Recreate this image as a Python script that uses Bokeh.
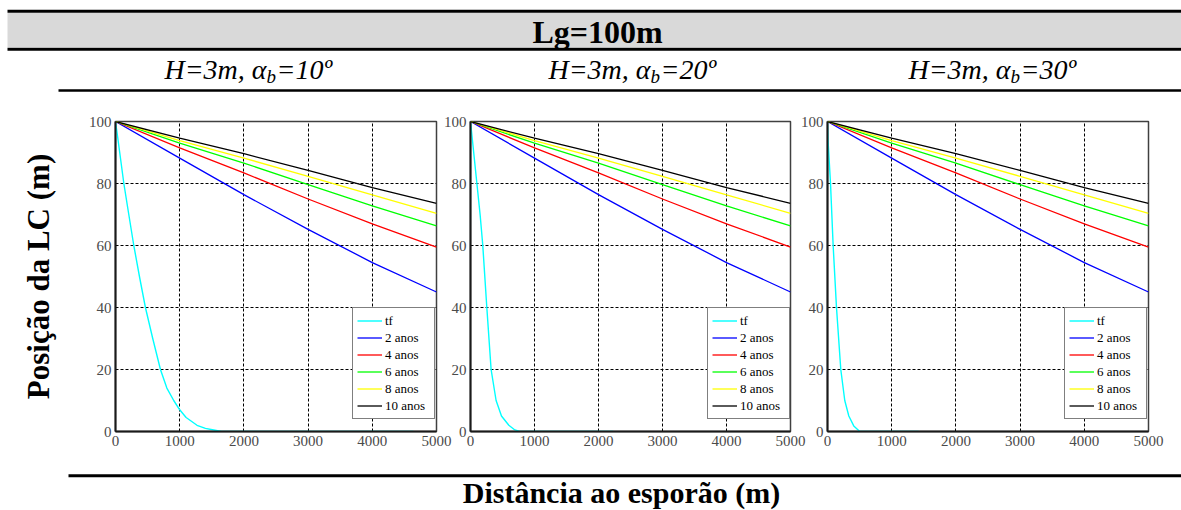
from bokeh.plotting import figure
from bokeh.layouts import row, column
from bokeh.models import Range1d, Legend, LegendItem
from bokeh.embed import file_html
from bokeh.resources import INLINE
from bokeh.core.properties import value

# ---------------- data ----------------
title = "Lg=100m"
x_title = "Distância ao esporão (m)"
y_title = "Posição da LC (m)"
angles = ["10º", "20º", "30º"]
tick_x = [0, 1000, 2000, 3000, 4000, 5000]
tick_y = [0, 20, 40, 60, 80, 100]

dist = [0, 1000, 2000, 3000, 4000, 5000]
lc_2 = [100, 88.2, 76.4, 65.2, 54.5, 45.0]
lc_4 = [100, 91.5, 83.4, 75.0, 67.0, 59.5]
lc_6 = [100, 93.0, 86.6, 79.6, 72.8, 66.3]
lc_8 = [100, 93.8, 88.2, 82.3, 76.3, 70.4]
lc_10 = [100, 94.6, 89.6, 84.2, 78.7, 73.6]

tf_x_10 = [0, 36, 130, 207, 285, 373, 466, 580, 700, 800, 907, 1000, 1100, 1270, 1400, 1530, 1650, 4640]
tf_y_10 = [100, 94.6, 80, 70, 60, 50, 40, 30, 20, 14, 10, 7, 4.5, 2, 1, 0.5, 0, 0]
tf_x_20 = [0, 40, 100, 150, 192, 255, 322, 400, 484, 599, 693, 770, 2230]
tf_y_20 = [100, 92, 80, 70, 60, 40, 20, 10, 5, 2, 0.5, 0, 0]
tf_x_30 = [0, 8, 47, 88, 140, 207, 269, 332, 409, 503, 1420]
tf_y_30 = [100, 94, 80, 60, 40, 20, 10, 5, 1.8, 0, 0]

series_labels = ["tf", "2 anos", "4 anos", "6 anos", "8 anos", "10 anos"]
series_colors = ["#00FFFF", "#0000FF", "#FF0000", "#00FF00", "#FFFF00", "#000000"]
year_series = [lc_2, lc_4, lc_6, lc_8, lc_10]
tf_series = [(tf_x_10, tf_y_10), (tf_x_20, tf_y_20), (tf_x_30, tf_y_30)]

SERIF = "Liberation Serif"
W = 1181


def make_panel(k, bl, br, fw, ml):
    p = figure(frame_width=fw, frame_height=310,
               x_range=Range1d(0, 5000), y_range=Range1d(0, 100),
               output_backend="svg", toolbar_location=None,
               min_border_left=bl, min_border_right=br,
               min_border_top=21, min_border_bottom=26,
               background_fill_color="white", border_fill_alpha=0)
    if ml:
        p.margin = (0, 0, 0, ml)
    p.xaxis.ticker = tick_x
    p.yaxis.ticker = tick_y
    for ax in (p.xaxis[0], p.yaxis[0]):
        ax.major_tick_out = 0
        ax.major_tick_in = 0
        ax.minor_tick_out = 0
        ax.minor_tick_in = 0
        ax.axis_line_color = "#1a1a1a"
        ax.axis_line_width = 2
        ax.major_label_text_font = SERIF
        ax.major_label_text_font_size = "15px"
        ax.major_label_text_color = "#4a4a4a"
        ax.major_label_standoff = 4
    p.grid.grid_line_color = "black"
    p.grid.grid_line_dash = "3 2"
    p.grid.grid_line_width = 1
    p.outline_line_color = "#404040"
    p.outline_line_width = 1.5

    tx, ty = tf_series[k]
    renderers = [p.line(tx, ty, line_color=series_colors[0], line_width=1.4)]
    for vals, col in zip(year_series, series_colors[1:]):
        renderers.append(p.line(dist, vals, line_color=col, line_width=1.3))

    items = [LegendItem(label=lab, renderers=[r]) for lab, r in zip(series_labels, renderers)]
    leg = Legend(items=items, location=(237, 12),
                 label_text_font=SERIF, label_text_font_size="13px",
                 label_text_color="black",
                 glyph_width=25, glyph_height=17, label_height=17, label_width=45,
                 label_standoff=3, padding=4, spacing=0, margin=0,
                 border_line_color="black", border_line_width=1.5,
                 background_fill_color="white", background_fill_alpha=1)
    p.add_layout(leg)
    return p


p1 = make_panel(0, 115, 17, 321, 0)
p1.yaxis.axis_label = y_title
p1.yaxis.axis_label_text_font = SERIF
p1.yaxis.axis_label_text_font_style = "bold"
p1.yaxis.axis_label_text_font_size = "31px"
p1.yaxis.axis_label_text_color = "black"
p1.yaxis.axis_label_standoff = 30
p2 = make_panel(1, 29, 17, 320, -13)
p3 = make_panel(2, 33, 34, 321, -13)

# ---------------- header ----------------
HH = 100
h = figure(width=W, height=HH, x_range=Range1d(0, W), y_range=Range1d(HH, 0),
           x_axis_type=None, y_axis_type=None, output_backend="svg",
           toolbar_location=None, min_border=0, outline_line_color=None)
h.quad(left=[7], right=[W], top=[12.3], bottom=[46.7], fill_color="#D9D9D9", line_color=None)
h.segment(x0=[7, 7, 58], y0=[10.7, 48.7, 90], x1=[W, W, W], y1=[10.7, 48.7, 90],
          line_color="black", line_width=[3, 3, 2.5])
h.text(x=[597], y=[31], text=[title], text_font=value(SERIF), text_font_style="bold",
       text_font_size="32px", text_align="center", text_baseline="middle", text_color="black")

centers = [248, 632, 992]
split = [c + 18 for c in centers]
mid_y = 69
h.text(x=split, y=[mid_y] * 3, text=["H=3m, α"] * 3, text_font=value(SERIF),
       text_font_style="italic", text_font_size="28px", text_align="right",
       text_baseline="middle", text_color="black")
h.text(x=split, y=[mid_y + 7] * 3, text=["b"] * 3, text_font=value(SERIF),
       text_font_style="italic", text_font_size="19px", text_align="left",
       text_baseline="middle", text_color="black")
h.text(x=[s + 10 for s in split], y=[mid_y] * 3, text=["=" + a for a in angles],
       text_font=value(SERIF), text_font_style="italic", text_font_size="28px",
       text_align="left", text_baseline="middle", text_color="black")

# ---------------- footer ----------------
FH = 53
f = figure(width=W, height=FH, x_range=Range1d(0, W), y_range=Range1d(FH, 0),
           x_axis_type=None, y_axis_type=None, output_backend="svg",
           toolbar_location=None, min_border=0, outline_line_color=None)
f.segment(x0=[68], y0=[18.3], x1=[W], y1=[18.3], line_color="black", line_width=3)
f.text(x=[621], y=[35], text=[x_title], text_font=value(SERIF), text_font_style="bold",
       text_font_size="30px", text_align="center", text_baseline="middle", text_color="black")

layout = column(h, row(p1, p2, p3), f)
open("out.html", "w").write(file_html(layout, INLINE))
